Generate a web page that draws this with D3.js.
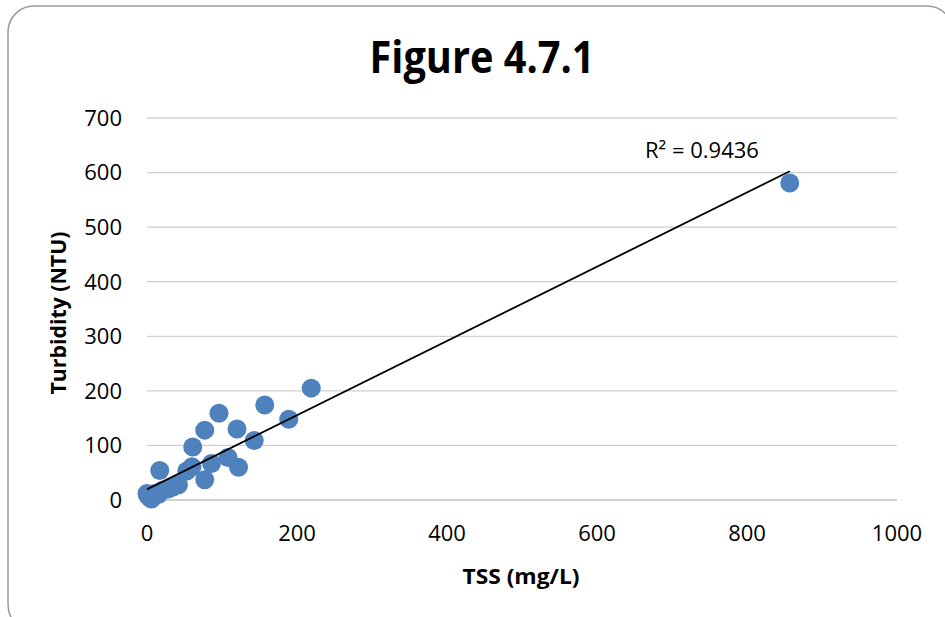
<!DOCTYPE html>
<html>
<head>
<meta charset="utf-8">
<script src="https://cdn.jsdelivr.net/npm/d3@7"></script>
<style>
  body { margin: 0; background: #fff; }
  text { font-family: "Open Sans", sans-serif; fill: #000; }
</style>
</head>
<body>
<svg class="chart"></svg>
<script>
// TSS (mg/L) vs Turbidity (NTU)
const tss = [857, 219, 157, 96, 189, 77, 120, 143, 61, 108, 86, 122, 77, 53, 60,
  17, 35, 21, 0, 4, 1, 10, 28, 42, 15, 6];
const turbidity = [581, 205, 174, 159, 148, 128, 130, 109, 97, 78, 67, 60, 37, 53, 61,
  54, 24, 18, 12, 4, 8, 12, 20, 28, 10, 2];
const xTicks = [0, 200, 400, 600, 800, 1000];
const yTicks = [0, 100, 200, 300, 400, 500, 600, 700];
const chartTitle = "Figure 4.7.1";
const xTitle = "TSS (mg/L)";
const yTitle = "Turbidity (NTU)";
const rLabel = "R² = 0.9436";

window.onload = function () {
  const width = 945, height = 617;
  const svg = d3.select(".chart").attr("width", width).attr("height", height);

  // 外框
  svg.append("rect")
    .attr("x", 8).attr("y", 6)
    .attr("width", 945).attr("height", 625)
    .attr("rx", 26).attr("ry", 26)
    .attr("fill", "#fff")
    .attr("stroke", "#9a9a9a")
    .attr("stroke-width", 1.5);

  const x = d3.scaleLinear().domain([0, 1000]).range([147, 897]);
  const y = d3.scaleLinear().domain([0, 700]).range([500, 118]);

  // gridlines
  svg.append("g")
    .selectAll("line")
    .data(yTicks)
    .enter()
    .append("line")
    .attr("x1", x(0)).attr("x2", x(1000))
    .attr("y1", (d) => y(d)).attr("y2", (d) => y(d))
    .attr("stroke", (d) => (d === 0 ? "#bfbfbf" : "#d0d0d0"))
    .attr("stroke-width", 1.3);

  // y tick labels
  svg.append("g")
    .selectAll("text")
    .data(yTicks)
    .enter()
    .append("text")
    .attr("x", 122)
    .attr("y", (d) => y(d))
    .attr("dy", "0.36em")
    .attr("text-anchor", "end")
    .attr("font-size", 22)
    .text((d) => d);

  // x tick labels
  svg.append("g")
    .selectAll("text")
    .data(xTicks)
    .enter()
    .append("text")
    .attr("x", (d) => x(d))
    .attr("y", 541)
    .attr("text-anchor", "middle")
    .attr("font-size", 22)
    .text((d) => d);

  const points = tss.map((v, i) => ({ x: v, y: turbidity[i] }));

  // points
  svg.append("g")
    .selectAll("circle")
    .data(points)
    .enter()
    .append("circle")
    .attr("cx", (d) => x(d.x))
    .attr("cy", (d) => y(d.y))
    .attr("r", 9.5)
    .attr("fill", "#4f81bd");

  // linear trendline (least squares)
  const mx = d3.mean(points, (d) => d.x);
  const my = d3.mean(points, (d) => d.y);
  const slope =
    d3.sum(points, (d) => (d.x - mx) * (d.y - my)) /
    d3.sum(points, (d) => (d.x - mx) ** 2);
  const intercept = my - slope * mx;
  const [x0, x1] = d3.extent(tss);
  svg.append("line")
    .attr("x1", x(x0)).attr("y1", y(intercept + slope * x0))
    .attr("x2", x(x1)).attr("y2", y(intercept + slope * x1))
    .attr("stroke", "#000")
    .attr("stroke-width", 1.8);

  svg.append("text")
    .attr("x", 645).attr("y", 158)
    .attr("font-size", 22)
    .text(rLabel);

  // titles
  svg.append("text")
    .attr("x", 482).attr("y", 73)
    .attr("text-anchor", "middle")
    .attr("font-size", 45)
    .attr("font-weight", "bold")
    .attr("textLength", 225)
    .attr("lengthAdjust", "spacingAndGlyphs")
    .text(chartTitle);

  svg.append("text")
    .attr("x", 521).attr("y", 584)
    .attr("text-anchor", "middle")
    .attr("font-size", 21)
    .attr("font-weight", "bold")
    .attr("textLength", 117)
    .attr("lengthAdjust", "spacingAndGlyphs")
    .text(xTitle);

  svg.append("text")
    .attr("transform", "translate(66,313) rotate(-90)")
    .attr("text-anchor", "middle")
    .attr("font-size", 21)
    .attr("font-weight", "bold")
    .attr("textLength", 163)
    .attr("lengthAdjust", "spacingAndGlyphs")
    .text(yTitle);
};
</script>
</body>
</html>
